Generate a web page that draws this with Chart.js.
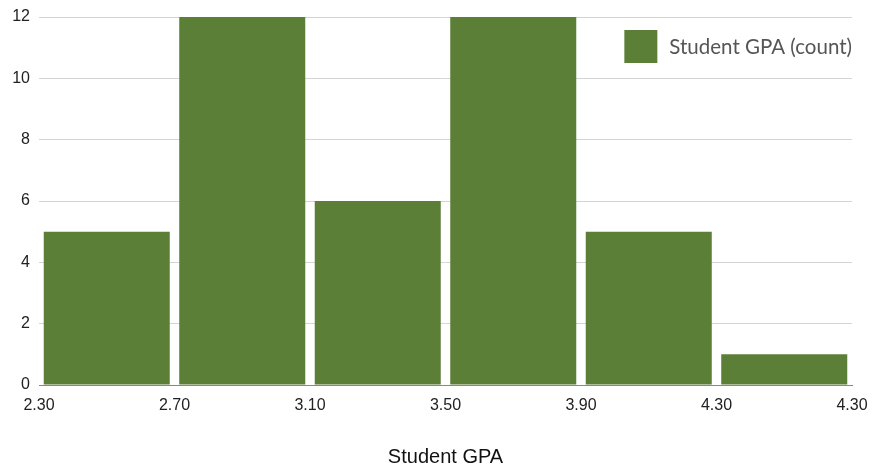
<!DOCTYPE html>
<html><head><meta charset="utf-8">
<script src="https://cdn.jsdelivr.net/npm/chart.js@4/dist/chart.umd.min.js"></script>
<style>html,body{margin:0;padding:0;background:#fff}#wrap{width:887px;height:468px}</style>
</head><body><div id="wrap"><canvas id="c"></canvas></div>
<script>
const binCenters = [2.5, 2.9, 3.3, 3.7, 4.1, 4.5];
const counts = [5, 12, 6, 12, 5, 1];
const binEdges = [2.3, 2.7, 3.1, 3.5, 3.9, 4.3, 4.7];
const xTickLabels = ['2.30', '2.70', '3.10', '3.50', '3.90', '4.30', '4.30'];
const seriesName = 'Student GPA (count)';
const xTitle = 'Student GPA';

const insideLegend = {
  id: 'insideLegend',
  afterDraw(chart) {
    const ctx = chart.ctx, area = chart.chartArea;
    const items = chart.legend ? chart.legend.legendItems : [];
    ctx.save();
    ctx.font = '20.5px Lato';
    let right = area.right;
    items.forEach((it, i) => {
      const tw = ctx.measureText(it.text).width;
      const tx = right - tw;
      const bx = tx - 12 - 33;
      const by = area.top + 13 + i * 45;
      ctx.fillStyle = it.fillStyle;
      ctx.fillRect(bx, by, 33, 33);
      ctx.fillStyle = '#555';
      ctx.textBaseline = 'middle';
      ctx.textAlign = 'left';
      ctx.fillText(it.text, tx, by + 17);
    });
    ctx.restore();
  }
};

new Chart(document.getElementById('c'), {
  type: 'bar',
  data: {
    datasets: [{
      label: seriesName,
      data: binCenters.map((x, i) => ({x: x, y: counts[i]})),
      backgroundColor: '#5b7f37',
      borderWidth: 0,
      barPercentage: 1,
      categoryPercentage: 0.93
    }]
  },
  plugins: [insideLegend],
  options: {
    responsive: true, maintainAspectRatio: false, animation: false,
    layout: {padding: {top: 0, right: 35, left: 0, bottom: 0}},
    plugins: {
      tooltip: {enabled: false},
      legend: {display: false}
    },
    scales: {
      x: {
        type: 'linear', offset: false, min: 2.3, max: 4.7,
        afterBuildTicks: s => { s.ticks = binEdges.map(v => ({value: v})); },
        afterFit: s => { s.height = 83; },
        grid: {display: false, drawTicks: false},
        border: {display: true, color: '#888'},
        ticks: {autoSkip: false, maxRotation: 0, padding: 11, color: '#222',
          font: {family: 'Liberation Sans', size: 16},
          callback: (v, i) => xTickLabels[i]},
        title: {display: true, text: xTitle, color: '#111', padding: {top: 30, bottom: 1},
          font: {family: 'Liberation Sans', size: 20, lineHeight: 1}}
      },
      y: {
        min: 0, max: 12,
        afterFit: s => { s.width = 39; },
        grid: {color: '#d4d4d4', drawTicks: false},
        border: {display: false},
        ticks: {stepSize: 2, padding: 9, color: '#222',
          font: {family: 'Liberation Sans', size: 16, lineHeight: 1}}
      }
    }
  }
});
</script></body></html>
